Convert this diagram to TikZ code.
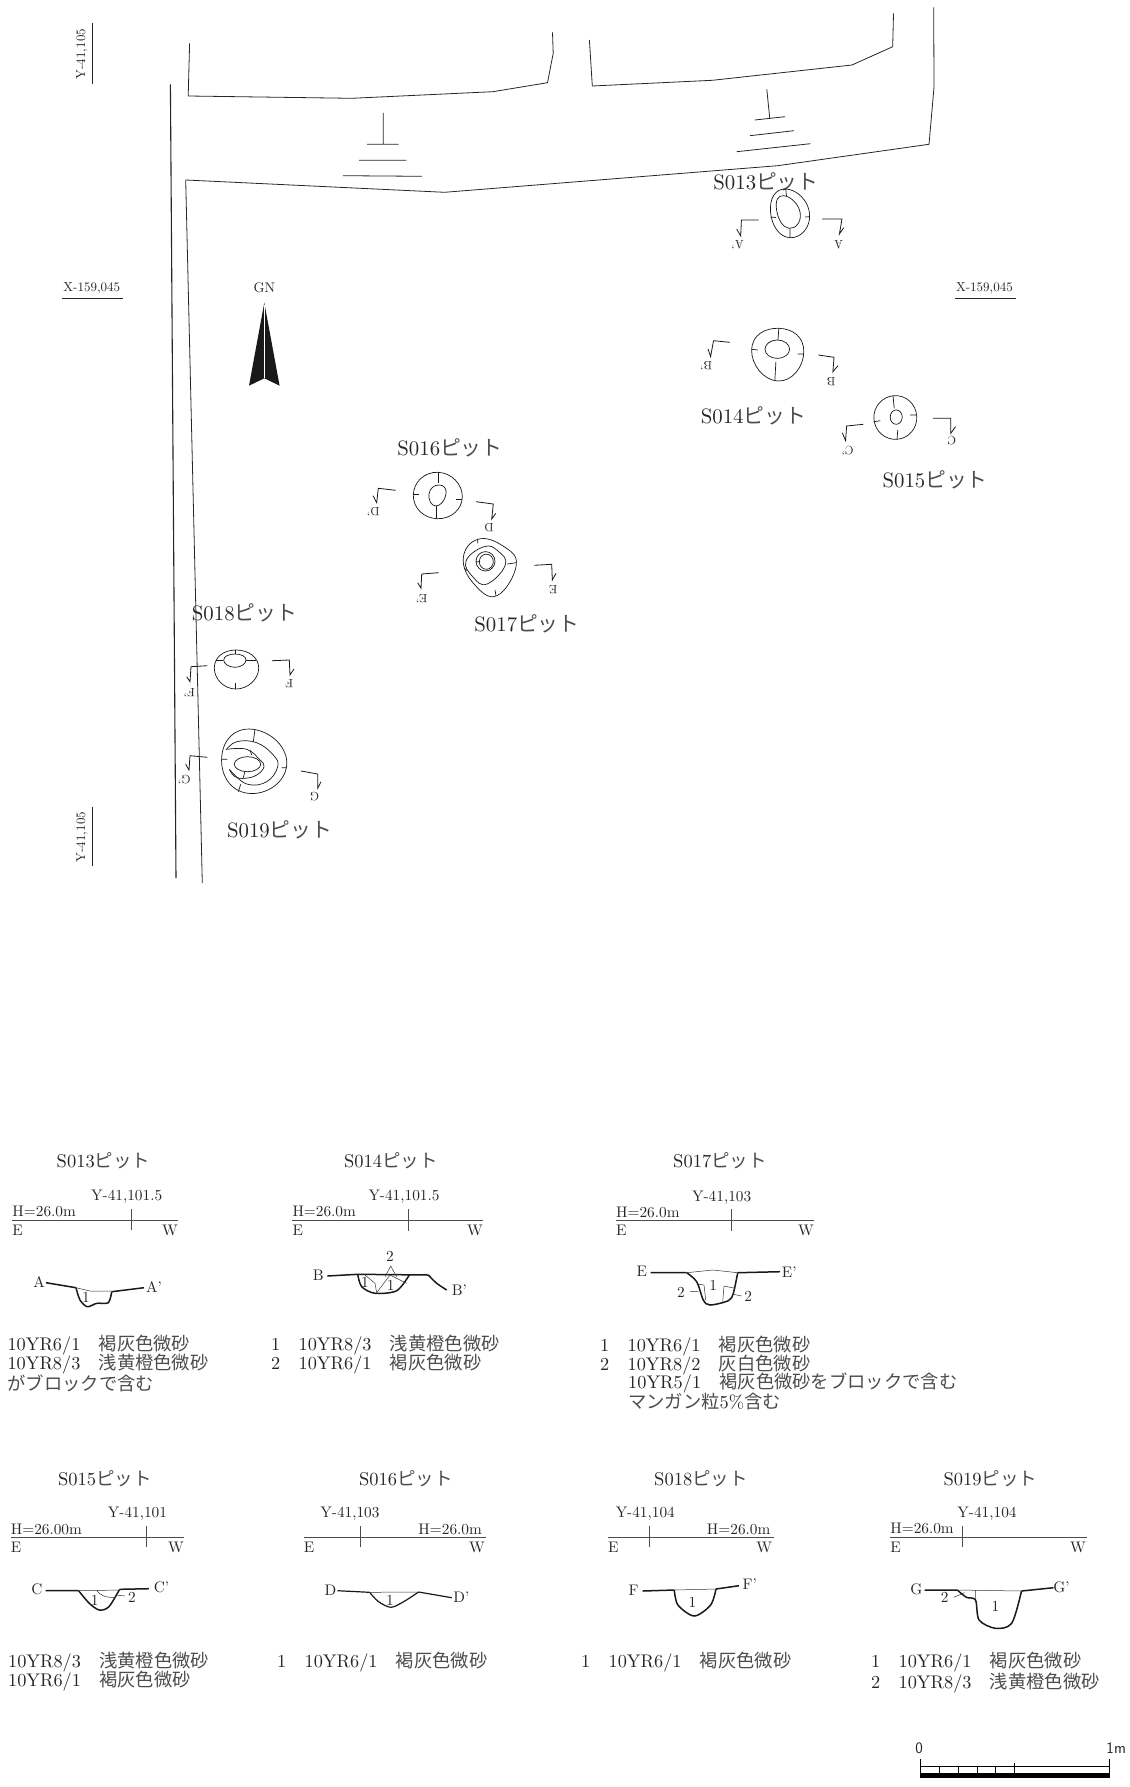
\documentclass[tikz,border=0pt]{standalone}
\usepackage{fontspec}
\setmainfont{lmroman10-regular}[Extension=.otf]
\newfontfamily\cjk{Noto Sans CJK JP}
\newcommand{\jp}[1]{{\cjk\color{black!70}#1}}
\newcommand{\pitname}[1]{S#1\jp{ピット}}
\tikzset{
  txt/.style={inner sep=0pt,text=black!85},
  planname/.style={txt,font=\fontsize{20.8}{20.8}\selectfont},
  secname/.style={txt,font=\fontsize{18.5}{18.5}\selectfont},
  gridlabel/.style={txt,font=\fontsize{13}{13}\selectfont},
  seclabel/.style={txt,font=\fontsize{12}{12}\selectfont,rotate=180},
  lvl/.style={txt,font=\fontsize{15.3}{15.3}\selectfont},
  soil/.style={txt,anchor=west,font=\fontsize{18.3}{18.3}\selectfont},
  wall/.style={line width=.8pt,black!85},
  ring/.style={line width=.7pt,black!90},
  egg/.style={smooth cycle,tension=1},
  cutline/.style={line width=.8pt,black!90},
  datum/.style={line width=.9pt,black!70},
  surf/.style={line width=1.5pt,black!90},
  fill1/.style={line width=.5pt,black!80}
}
\begin{document}
\begin{tikzpicture}[x=1pt,y=-1pt]
\useasboundingbox (0,0) rectangle (1129,1787);
% road and walls
\draw[wall,line width=1.1pt] (170.4,84.3) -- (176,878);
\draw[wall] (185.7,180) -- (202.3,883);
\draw[wall] (189.6,43.3) -- (188.2,96) -- (351.8,98.3) -- (492.9,91.7) -- (547.5,82.7) -- (553.2,53.3) -- (552.5,32.3);
\draw[wall] (185.7,180) -- (444.6,192.3) -- (777.7,165.7) -- (929,144.3) -- (934,87.3) -- (933.7,7.3);
\draw[wall] (589.4,40) -- (592.3,86) -- (712.4,80.3) -- (852,65) -- (892.7,46.7) -- (893.5,13.3);
\draw[wall] (383.2,113) -- (383.2,144.3) (367,144.3) -- (398.6,144.3) (359,160.3) -- (406.4,160.3) (342.9,175.7) -- (422,176.3);
\draw[wall] (766.8,89.3) -- (769.7,118) (754.8,120) -- (785,116.7) (749.8,135.7) -- (794,130.7) (736.7,151.7) -- (810.4,143.7);
% grid
\node[gridlabel,rotate=90] (ytop) at (82,54) {Y-41,105};
\draw[wall] (92.1,23.3) -- (92.1,84.3);
\node[gridlabel,rotate=90] (ybot) at (82,837) {Y-41,105};
\draw[wall] (92.1,806.5) -- (92.1,866);
\node[gridlabel] (xleft) at (91.8,288.3) {X-159,045};
\draw[wall] (61.8,298) -- (122.5,298);
\node[gridlabel] (xright) at (984.5,288.3) {X-159,045};
\draw[wall] (954.8,298) -- (1015.8,298);
% north
\node[lvl,font=\fontsize{14}{14}\selectfont] (gn) at (264.3,287.3) {GN};
\fill[black!90] (264.3,302.7) -- (279.6,385.7) -- (264.3,378.3) -- (249,385.7) -- cycle;
\draw[white,line width=.5pt] (264.3,305) -- (264.3,378.3);
% S013 plan
\node[planname] (p13) at (766,181.7) {\pitname{013}};
\draw[ring] plot[egg] coordinates {(786,189) (809.6,214) (790,237.7) (770.5,212)};
\draw[ring] plot[egg] coordinates {(784,195.7) (800.2,213) (789,228.3) (776.6,210)};
\draw[ring] (785.7,189) -- (786.5,196) (790,228.3) -- (790,237.7) (770.5,217) -- (776,217.5) (805,217) -- (809.6,216.7);
\draw[cutline] (758.5,220) -- (741.4,220) -- (740.7,236) -- (736.7,229);
\draw[cutline] (822,219) -- (842,219) -- (839.4,234) -- (843.7,227.7);
\node[seclabel] (la1) at (737.8,245) {A'};
\node[seclabel] (la) at (838.7,245) {A};
% S014 plan
\node[planname] (p14) at (753.4,416) {\pitname{014}};
\draw[ring] plot[egg] coordinates {(779,328.3) (803.8,352) (778,381) (751.6,350)};
\draw[ring] (777.3,349.2) ellipse (12.3 and 9.2);
\draw[ring] (778.8,328.3) -- (778,340) (775.9,361.7) -- (774.8,381) (751.6,349.3) -- (757.8,350) (797.7,354) -- (803.8,354);
\draw[cutline] (729.8,342.3) -- (713.5,340.7) -- (710.6,356.7) -- (708,349);
\draw[cutline] (818.3,355) -- (834,357.3) -- (832.9,371.7) -- (838,365.7);
\node[seclabel] (lb1) at (706.2,365.7) {B'};
\node[seclabel] (lb) at (831,381.7) {B};
% S015 plan
\node[planname] (p15) at (935.2,480) {\pitname{015}};
\draw[ring] plot[egg] coordinates {(894,395.7) (916.7,416) (897,439.3) (873.9,419)};
\draw[ring] (896.2,417.1) ellipse (6 and 7.2);
\draw[ring] (893,395.7) -- (894.2,408.3) (897.8,430) -- (897,439.3) (873.9,421.7) -- (880.4,420.7) (910,415) -- (916.7,415);
\draw[cutline] (863.3,424.3) -- (846.6,426) -- (845.6,440.7) -- (842.3,432.7);
\draw[cutline] (933,418.3) -- (950.8,418.3) -- (950.8,433.3) -- (955.5,426.7);
\node[seclabel] (lc1) at (847.7,450.7) {C'};
\node[seclabel] (lc) at (951.9,440.7) {C};
% S016 plan
\node[planname] (p16) at (450,448.3) {\pitname{016}};
\draw[ring] plot[egg] coordinates {(438,472.3) (462.3,497) (437,518.7) (413.3,495)};
\draw[ring] plot[egg] coordinates {(439,485) (446,494) (436,506) (429,494)};
\draw[ring] (438.7,472.3) -- (438.7,483.3) (436,506) -- (436,518.7) (413.3,494) -- (419.3,494) (455.7,499.3) -- (462.3,499.3);
\draw[cutline] (395.7,490.3) -- (378.3,488.3) -- (376.7,502.7) -- (373,495.7);
\draw[cutline] (476,501.7) -- (493.3,504) -- (491.7,519) -- (495.7,513.3);
\node[seclabel] (ld1) at (373.3,511.7) {D'};
\node[seclabel] (ld) at (489,527.7) {D};
% S017 plan
\node[planname] (p17) at (527,624) {\pitname{017}};
\draw[ring] plot[smooth cycle,tension=.75] coordinates {(478,539.3) (503,546) (516.3,565) (497,595.7) (474,584) (463.3,558)};
\draw[ring] plot[smooth cycle,tension=.75] coordinates {(484,546.7) (498,551) (505.3,565) (487,584) (473,577) (466,561)};
\draw[ring] (485.5,561.3) ellipse (9.5 and 9.7);
\draw[ring] (486.3,561.7) ellipse (7 and 7.6);
\draw[ring] (477.7,539.3) -- (477.7,543.3) (507.3,564) -- (516.3,562.7) (495,590) -- (496,595.7) (464,568) -- (467.3,570.7) (476,561.7) -- (480,561.7);
\draw[cutline] (438.7,572.7) -- (421.7,574) -- (421,588.3) -- (417.7,582.7);
\draw[cutline] (534.3,565.3) -- (551.7,564.3) -- (552.3,580) -- (556,573.3);
\node[seclabel] (le1) at (421.7,598.3) {E'};
\node[seclabel] (le) at (553.3,589.3) {E};
% S018 plan
\node[planname] (p18) at (244.5,613.3) {\pitname{018}};
\draw[ring] plot[egg] coordinates {(236,650) (258.7,668) (236,689) (214.3,668)};
\draw[ring] plot[egg] coordinates {(235,654) (246,660) (235,667.3) (223.7,660)};
\draw[ring] (235.7,650) -- (235.7,654) (235.7,683.3) -- (235.7,689) (216,660) -- (223.3,660) (246,660) -- (256,660);
\draw[cutline] (207.3,665.7) -- (191,666.7) -- (190,681.7) -- (186.7,676.7);
\draw[cutline] (272,660.7) -- (289.3,660) -- (290,675) -- (294,669);
\node[seclabel] (lf1) at (189.3,692.3) {F'};
\node[seclabel] (lf) at (289.3,683.3) {F};
% S019 plan
\node[planname] (p19) at (279.7,830) {\pitname{019}};
\draw[ring] plot[egg] coordinates {(253,729.3) (286.7,765) (248,793.3) (221.7,757)};
\draw[ring] plot[smooth,tension=.7] coordinates {(226,750) (236.7,741.7) (256.7,742.7) (273.3,755) (277.7,766.7) (266.7,781.7) (246.7,784) (230,770)};
\draw[ring] plot[smooth,tension=.7] coordinates {(227.3,749.3) (246.7,749.3) (260,760) (264,766.7) (256.7,775) (245,778.3) (235,776.7) (229.3,769.3)};
\draw[ring] (247.5,764.2) ellipse (13.2 and 7.5);
\draw[ring] (255,729.3) -- (253.3,741.7) (240.7,784.3) -- (238.3,791.7) (221.7,759.3) -- (227.3,759.3) (281.7,767.7) -- (286.7,767.7) (250,750) -- (251.7,755) (245,771) -- (243.3,777.7);
\draw[cutline] (207.3,757.3) -- (190,755.7) -- (189,770) -- (185.7,764.3);
\draw[cutline] (301,771) -- (317.7,774) -- (317.7,788.3) -- (321,781.7);
\node[seclabel] (lg1) at (184.3,779.3) {G'};
\node[seclabel] (lg) at (314.3,796.7) {G};
% S013 section
\node[secname] (s13) at (103.5,1161) {\pitname{013}};
\node[lvl,anchor=west] (h13) at (12.3,1211.7) {H=26.0m};
\node[lvl] (y13) at (126.7,1196.7) {Y-41,101.5};
\node[lvl,anchor=west] (e13) at (12.3,1230.5) {E};
\node[lvl,anchor=east] (w13) at (178,1230.5) {W};
\draw[datum] (12.3,1220.3) -- (178,1220.3) (131.3,1209) -- (131.3,1230.3);
\node[lvl] (a13) at (39,1281.7) {A};
\node[lvl] (a13r) at (154,1286.7) {A'};
\draw[surf] (46,1282.7) -- (76,1287.7);
\draw[surf] (111.7,1291.7) -- (144,1287.7);
\draw[surf] plot[smooth] coordinates {(76,1287.7) (80,1300) (87.3,1306.7) (96.7,1303.3) (108.3,1302.7) (111.7,1291.7)};
\draw[fill1] (76,1287.7) -- (90,1291) -- (111.7,1291);
\node[lvl] (n13) at (86,1297) {1};
\node[soil] (t13a) at (7.3,1345) {10YR6/1\jp{　褐灰色微砂}};
\node[soil] (t13b) at (7.3,1364) {10YR8/3\jp{　浅黄橙色微砂}};
\node[soil] (t13c) at (7.3,1383.3) {\jp{がブロックで含む}};
% S014 section
\node[secname] (s14) at (390.8,1161) {\pitname{014}};
\node[lvl,anchor=west] (h14) at (292.3,1211.7) {H=26.0m};
\node[lvl] (y14) at (404,1196.7) {Y-41,101.5};
\node[lvl,anchor=west] (e14) at (292.3,1230.5) {E};
\node[lvl,anchor=east] (w14) at (483,1230.5) {W};
\draw[datum] (292.3,1220.3) -- (483.3,1220.3) (408,1209) -- (408,1230.7);
\node[lvl] (b14) at (318.3,1275) {B};
\node[lvl] (b14r) at (459.3,1290) {B'};
\draw[surf] (327.3,1276) -- (357.7,1274.3) -- (428.3,1275) plot[smooth] coordinates {(428.3,1275) (436.7,1283.3) (446.7,1290)};
\draw[surf] plot[smooth] coordinates {(357.7,1274.3) (361.7,1286.7) (375,1293.3) (396.7,1290.7) (409.3,1275)};
\draw[fill1] (365,1275) -- (375,1283.3) -- (376.7,1292.7) -- (390,1275) -- (406.7,1283.3) (385,1276.7) -- (390.7,1266) -- (396.7,1276.7);
\node[lvl] (n14t) at (390,1256.7) {2};
\node[lvl] (n14a) at (365,1282.7) {1};
\node[lvl] (n14b) at (390.7,1285) {1};
\node[soil] (t14a) at (271,1345) {1\jp{　}10YR8/3\jp{　浅黄橙色微砂}};
\node[soil] (t14b) at (271,1364) {2\jp{　}10YR6/1\jp{　褐灰色微砂}};
% S017 section
\node[secname] (s17) at (720,1161) {\pitname{017}};
\node[lvl,anchor=west] (h17) at (616,1212) {H=26.0m};
\node[lvl] (y17) at (721.7,1197.7) {Y-41,103};
\node[lvl,anchor=west] (e17) at (616,1230.5) {E};
\node[lvl,anchor=east] (w17) at (814,1230.5) {W};
\draw[datum] (616,1220.3) -- (814.3,1220.3) (731.3,1209) -- (731.3,1230.7);
\node[lvl] (e17a) at (641.7,1271.7) {E};
\node[lvl] (e17b) at (789.3,1271.7) {E'};
\draw[surf] (650.7,1272.7) -- (686.7,1272.7) (737.7,1272.7) -- (780,1271.7);
\draw[surf] plot[smooth] coordinates {(686.7,1272.7) (696.7,1281.7) (703.3,1300) (710,1305) (728.3,1300.7) (733.3,1293.3) (737.7,1272.7)};
\draw[fill1] (686.7,1272.7) -- (713,1270) -- (737.7,1272.7) (696.7,1284) -- (704,1285) -- (705.7,1300) (722.7,1301.7) -- (724,1286) -- (735,1288.3) (690,1291.7) -- (698.3,1291.7) (733.3,1294.3) -- (741.7,1296);
\node[lvl] (n17a) at (681,1292.3) {2};
\node[lvl] (n17b) at (713.3,1285) {1};
\node[lvl] (n17c) at (748.3,1296) {2};
\node[soil] (t17a) at (600,1346) {1\jp{　}10YR6/1\jp{　褐灰色微砂}};
\node[soil] (t17b) at (600,1364.7) {2\jp{　}10YR8/2\jp{　灰白色微砂}};
\node[soil] (t17c) at (628,1383.3) {10YR5/1\jp{　褐灰色微砂をブロックで含む}};
\node[soil] (t17d) at (628,1402) {\jp{マンガン粒}5\%\jp{含む}};
% S015 section
\node[secname] (s15) at (104.8,1478.3) {\pitname{015}};
\node[lvl,anchor=west] (h15) at (10.7,1529.3) {H=26.00m};
\node[lvl] (y15) at (137.5,1513.3) {Y-41,101};
\node[lvl,anchor=west] (e15) at (10.7,1547.3) {E};
\node[lvl,anchor=east] (w15) at (184,1547.3) {W};
\draw[datum] (10.7,1537) -- (184,1537) (146.8,1526) -- (146.8,1547.3);
\node[lvl] (c15a) at (36.8,1589.3) {C};
\node[lvl] (c15b) at (161.4,1587.3) {C'};
\draw[surf] (45.7,1590.7) -- (78.6,1590.7) (119.6,1589.3) -- (148.9,1588.7);
\draw[surf] plot[smooth] coordinates {(78.6,1590.7) (89.3,1603.3) (99.3,1610) (108.9,1606.7) (119.6,1589.3)};
\draw[fill1] (78.6,1590.7) -- (119.6,1590) (97.1,1591) .. controls (100,1595) and (106,1598) .. (115,1597.3) (116,1595) -- (125,1596);
\node[lvl] (n15a) at (94.6,1600) {1};
\node[lvl] (n15b) at (132,1597.3) {2};
\node[soil] (t15a) at (7.9,1662.3) {10YR8/3\jp{　浅黄橙色微砂}};
\node[soil] (t15b) at (7.9,1681) {10YR6/1\jp{　褐灰色微砂}};
% S016 section
\node[secname] (s16) at (405.9,1478.3) {\pitname{016}};
\node[lvl,anchor=east] (h16) at (482,1529) {H=26.0m};
\node[lvl] (y16) at (350,1513.3) {Y-41,103};
\node[lvl,anchor=west] (e16) at (303.6,1547.3) {E};
\node[lvl,anchor=east] (w16) at (485,1547.3) {W};
\draw[datum] (303.6,1537) -- (485.7,1537) (360.7,1526) -- (360.7,1547.3);
\node[lvl] (d16a) at (330.4,1590.7) {D};
\node[lvl] (d16b) at (461.4,1597.3) {D'};
\draw[surf,line width=1.2pt] (337.5,1590.7) -- (369.6,1592.3) (418.6,1592) -- (451.8,1597.7);
\draw[surf,line width=1.2pt] plot[smooth] coordinates {(369.6,1592.3) (378.6,1601.7) (391,1607.3) (403.6,1601.7) (418.6,1592)};
\draw[fill1] (369.6,1592.3) -- (418.6,1592);
\node[lvl] (n16) at (390,1600) {1};
\node[soil] (t16a) at (277,1662.3) {1\jp{　}10YR6/1\jp{　褐灰色微砂}};
% S018 section
\node[secname] (s18) at (701,1478.3) {\pitname{018}};
\node[lvl,anchor=east] (h18) at (770.5,1529) {H=26.0m};
\node[lvl] (y18) at (645.3,1513.3) {Y-41,104};
\node[lvl,anchor=west] (e18) at (607.9,1547.3) {E};
\node[lvl,anchor=east] (w18) at (772.3,1547.3) {W};
\draw[datum] (607.9,1537) -- (774,1537) (649.3,1526) -- (649.3,1547.3);
\node[lvl] (f18a) at (633.7,1590) {F};
\node[lvl] (f18b) at (749.8,1584.3) {F'};
\draw[surf] (642.7,1591) -- (674.3,1590) (716,1589) -- (738.9,1585.7);
\draw[surf] plot[smooth] coordinates {(674.3,1590) (677.9,1605) (694.3,1616) (710.6,1605) (716,1589)};
\draw[fill1] (674.3,1590) -- (716,1589);
\node[lvl] (n18) at (692.4,1602.7) {1};
\node[soil] (t18a) at (581,1662) {1\jp{　}10YR6/1\jp{　褐灰色微砂}};
% S019 section
\node[secname] (s19) at (990.4,1478.3) {\pitname{019}};
\node[lvl,anchor=west] (h19) at (890.2,1528) {H=26.0m};
\node[lvl] (y19) at (987,1513.3) {Y-41,104};
\node[lvl,anchor=west] (e19) at (890.2,1547.3) {E};
\node[lvl,anchor=east] (w19) at (1086,1547.3) {W};
\draw[datum] (890.2,1537) -- (1086.9,1537) (962.4,1526) -- (962.4,1547.3);
\node[lvl] (g19a) at (916.3,1589) {G};
\node[lvl] (g19b) at (1061.4,1587.3) {G'};
\draw[surf] (924.7,1590) -- (957.3,1590) (1021.5,1591) -- (1053.5,1587.7);
\draw[surf] plot[smooth] coordinates {(957.3,1590) (966.4,1597.3) (975.5,1600) (979.1,1620) (995.4,1628.3) (1011.7,1623.3) (1021.5,1591)};
\draw[fill1] (957.3,1590) -- (1021.5,1591) (975.5,1590.7) -- (975.5,1600) (953.7,1597.3) -- (964.6,1592.7);
\node[lvl] (n19a) at (944.6,1597.7) {2};
\node[lvl] (n19b) at (995.4,1606.7) {1};
\node[soil] (t19a) at (871,1662) {1\jp{　}10YR6/1\jp{　褐灰色微砂}};
\node[soil] (t19b) at (871,1682.7) {2\jp{　}10YR8/3\jp{　浅黄橙色微砂}};
% scale
\node[lvl,font=\fontsize{16}{16}\sffamily] (sc0) at (919.2,1748.3) {0};
\node[lvl,font=\fontsize{16}{16}\sffamily] (sc1) at (1116.2,1748.3) {1m};
\draw[line width=.8pt] (920.3,1759) -- (920.3,1773) (1109,1759) -- (1109,1773) (1014.3,1762.7) -- (1014.3,1773) (920.3,1766.7) -- (1109,1766.7);
\foreach \x in {939.2,958,976.9,995.8}
  \draw[line width=.8pt] (\x,1766.7) -- (\x,1773);
\fill (920.3,1773.3) rectangle (1109.5,1777.7);
\end{tikzpicture}
\end{document}
